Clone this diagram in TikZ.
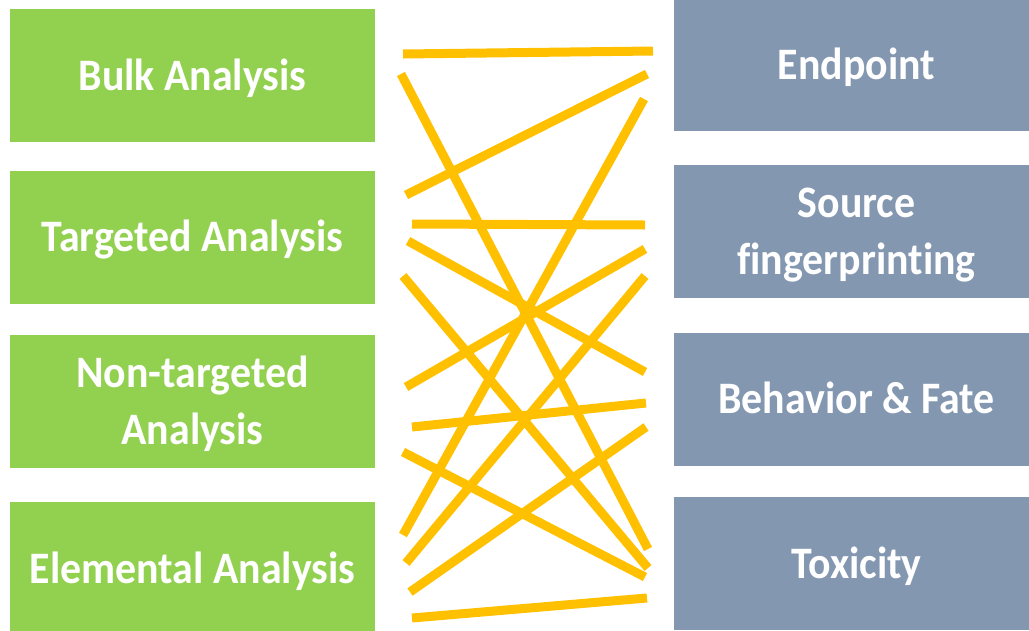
\documentclass[tikz,border=0pt]{standalone}
\usepackage{fontspec}
\setmainfont{Carlito}[FakeStretch=0.93,Ligatures=NoCommon]
\definecolor{analysisgreen}{HTML}{92D050}
\definecolor{topicblue}{HTML}{8497B0}
\definecolor{linkyellow}{HTML}{FFC000}
\begin{document}
\begin{tikzpicture}[x=1pt,y=-1pt,
  box/.style={rectangle, inner sep=0pt, minimum width=365pt, minimum height=133pt,
    text=white, align=center, font=\fontsize{45}{57}\selectfont\bfseries,
    text height=29pt, text depth=0pt},
  twoline/.style={text height=86pt},
  leftbox/.style={box, fill=analysisgreen},
  rightbox/.style={box, fill=topicblue},
  link/.style={draw=linkyellow, line width=9pt, line cap=butt}]
\useasboundingbox (0,0) rectangle (1029,630);
\begin{scope}
\clip (0,0) rectangle (1029,630);
% analysis methods
\node[leftbox] (bulk) at (192.5,75.5) {Bulk Analysis};
\node[leftbox] (targ) at (192.5,237) {Targeted Analysis};
\node[leftbox,twoline] (nontarg) at (192.5,401) {Non-targeted\\Analysis};
\node[leftbox] (elem) at (192.5,568.5) {Elemental Analysis};
% study topics
\node[rightbox] (endp) at (856.5,64.5) {Endpoint};
\node[rightbox,twoline] (src) at (856.5,231.5) {Source\\fingerprinting};
\node[rightbox] (fate) at (856.5,399) {Behavior \& Fate};
\node[rightbox] (tox) at (856.5,563.5) {Toxicity};
\end{scope}
% link end points
\coordinate (a1) at (403,54);  \coordinate (b1) at (653,51);
\coordinate (a2) at (401,74);  \coordinate (b2) at (648,549);
\coordinate (a3) at (406,195); \coordinate (b3) at (647,74);
\coordinate (a4) at (403,535); \coordinate (b4) at (644,99);
\coordinate (a5) at (412,224); \coordinate (b5) at (645,225);
\coordinate (a6) at (408,241); \coordinate (b6) at (645,372);
\coordinate (a7) at (406,387); \coordinate (b7) at (645,249);
\coordinate (a8) at (403,276); \coordinate (b8) at (648,568);
\coordinate (a9) at (406,563); \coordinate (b9) at (645,276);
\coordinate (a10) at (412,427); \coordinate (b10) at (646,403);
\coordinate (a11) at (403,452); \coordinate (b11) at (645,577);
\coordinate (a12) at (410,592); \coordinate (b12) at (646,427);
\coordinate (a13) at (412,618); \coordinate (b13) at (647,598);
\foreach \i in {1,...,13} {\draw[link] (a\i) -- (b\i);}
\end{tikzpicture}
\end{document}
